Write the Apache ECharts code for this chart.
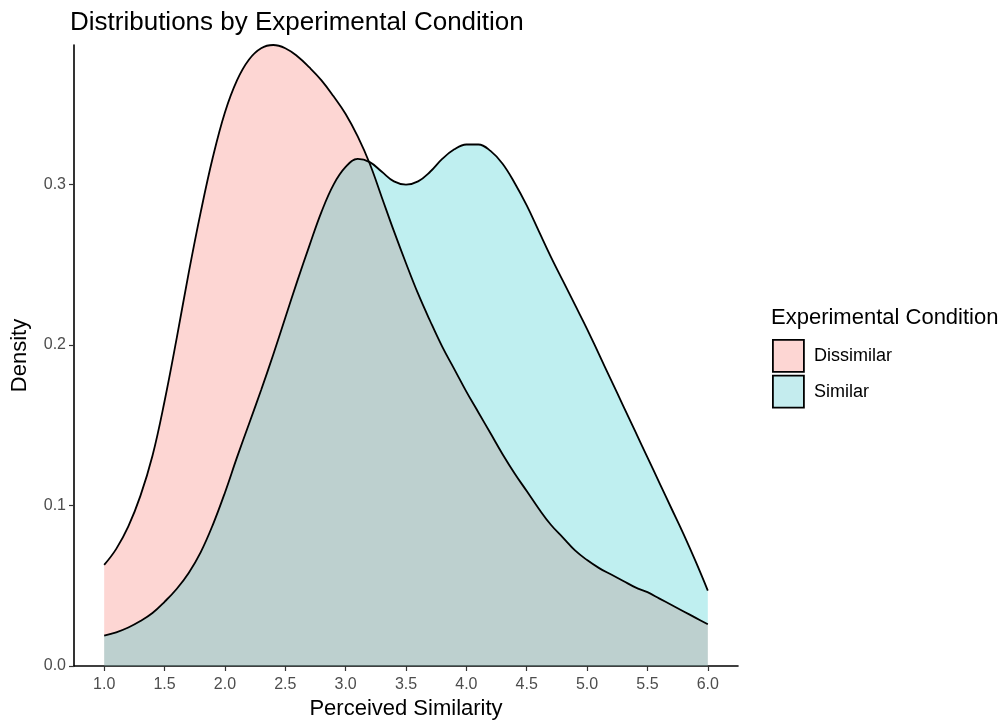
<!DOCTYPE html>
<html>
<head>
<meta charset="utf-8">
<script src="https://cdn.jsdelivr.net/npm/echarts@6/dist/echarts.min.js"></script>
<style>html,body{margin:0;padding:0;background:#fff}#c{width:1005px;height:721px}</style>
</head>
<body>
<div id="c"></div>
<script>
var xValues = [1.0,1.1,1.2,1.3,1.4,1.5,1.6,1.7,1.8,1.9,2.0,2.1,2.2,2.3,2.4,2.5,2.6,2.7,2.8,2.9,3.0,3.1,3.2,3.3,3.4,3.5,3.6,3.7,3.8,3.9,4.0,4.1,4.2,4.3,4.4,4.5,4.6,4.7,4.8,4.9,5.0,5.1,5.2,5.3,5.4,5.5,5.6,5.7,5.8,5.9,6.0];
var dissimilar = [0.063,0.073,0.087,0.106,0.131,0.165,0.204,0.245,0.283,0.317,0.345,0.365,0.378,0.385,0.387,0.385,0.380,0.373,0.365,0.355,0.344,0.330,0.313,0.292,0.271,0.251,0.232,0.215,0.199,0.185,0.171,0.158,0.145,0.132,0.120,0.109,0.098,0.088,0.080,0.072,0.066,0.061,0.057,0.053,0.049,0.046,0.042,0.038,0.034,0.030,0.026];
var similar = [0.019,0.021,0.024,0.028,0.033,0.040,0.048,0.058,0.071,0.088,0.108,0.130,0.151,0.172,0.194,0.217,0.240,0.262,0.283,0.300,0.311,0.316,0.314,0.308,0.302,0.300,0.302,0.308,0.316,0.322,0.325,0.325,0.321,0.313,0.301,0.287,0.271,0.255,0.240,0.225,0.210,0.194,0.178,0.162,0.146,0.130,0.114,0.098,0.082,0.065,0.047];
var xTicks = [1.0,1.5,2.0,2.5,3.0,3.5,4.0,4.5,5.0,5.5,6.0];
var yTicks = [0.0,0.1,0.2,0.3];
var seriesNames = ['Dissimilar','Similar'];

function pairs(ys){ return xValues.map(function(x,i){ return [x, ys[i]]; }); }
var FONT = '"Liberation Sans", Arial, sans-serif';
var chart = echarts.init(document.getElementById('c'));
chart.setOption({
  animation: false,
  backgroundColor: '#fff',
  title: [
    {text: 'Distributions by Experimental Condition', left: 70, top: 10, padding: 0,
     textStyle: {fontFamily: FONT, fontSize: 26, fontWeight: 'normal', color: '#000'}},
    {text: 'Experimental Condition', left: 771, top: 307, padding: 0,
     textStyle: {fontFamily: FONT, fontSize: 22, fontWeight: 'normal', color: '#000'}}
  ],
  legend: {
    orient: 'vertical', left: 772, top: 339, padding: 0, itemWidth: 31, itemHeight: 32, itemGap: 2,
    icon: 'rect',
    textStyle: {fontFamily: FONT, fontSize: 18, color: '#000', padding: [0,0,0,5]},
    data: [
      {name: seriesNames[0], itemStyle: {color: '#FDD6D3', borderColor: '#000', borderWidth: 1.8}},
      {name: seriesNames[1], itemStyle: {color: '#C4ECEE', borderColor: '#000', borderWidth: 1.8}}
    ]
  },
  grid: {left: 74, right: 267, top: 45, bottom: 55, containLabel: false, outerBoundsMode: 'none'},
  xAxis: {
    type: 'value', min: 0.75, max: 6.25,
    name: 'Perceived Similarity', nameLocation: 'middle', nameGap: 29,
    nameTextStyle: {fontFamily: FONT, fontSize: 22, color: '#000'},
    axisLine: {show: true, onZero: false, lineStyle: {color: '#000', width: 1.6}},
    axisTick: {show: true, length: 5, customValues: xTicks, lineStyle: {color: '#333', width: 1.2}},
    axisLabel: {customValues: xTicks, margin: 11, fontFamily: FONT, fontSize: 16, color: '#4D4D4D',
      formatter: function(v){ return Number(v).toFixed(1); }},
    splitLine: {show: false}
  },
  yAxis: {
    type: 'value', min: 0, max: 0.387,
    name: 'Density', nameLocation: 'middle', nameGap: 43, nameRotate: 90,
    nameTextStyle: {fontFamily: FONT, fontSize: 22, color: '#000'},
    axisLine: {show: true, lineStyle: {color: '#000', width: 1.6}},
    axisTick: {show: true, length: 5, customValues: yTicks, lineStyle: {color: '#333', width: 1.2}},
    axisLabel: {customValues: yTicks, margin: 8, fontFamily: FONT, fontSize: 16, color: '#4D4D4D',
      formatter: function(v){ return Number(v).toFixed(1); }},
    splitLine: {show: false}
  },
  series: [
    {name: seriesNames[0], type: 'line', data: pairs(dissimilar), smooth: 0.4, showSymbol: false,
     itemStyle: {color: '#F8766D'},
     lineStyle: {color: '#000', width: 1.8},
     areaStyle: {color: '#F8766D', opacity: 0.3, origin: 'start'}},
    {name: seriesNames[1], type: 'line', data: pairs(similar), smooth: 0.4, showSymbol: false,
     itemStyle: {color: '#00BFC4'},
     lineStyle: {color: '#000', width: 1.8},
     areaStyle: {color: '#00BFC4', opacity: 0.25, origin: 'start'}}
  ]
});
</script>
</body>
</html>
